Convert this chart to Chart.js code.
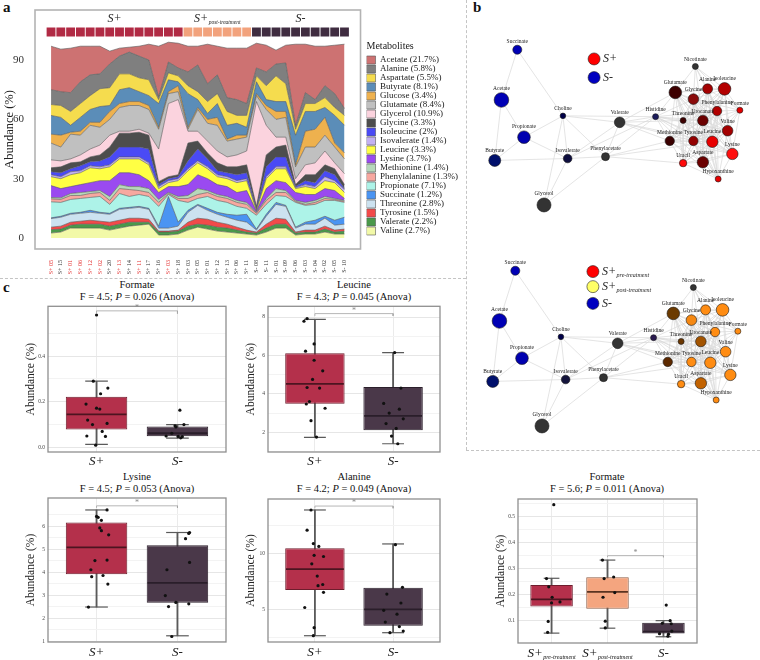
<!DOCTYPE html>
<html><head><meta charset="utf-8">
<script src="https://cdn.jsdelivr.net/npm/chart.js@4.4.1/dist/chart.umd.min.js"></script>
<style>
body{margin:0;background:#fff;width:760px;height:660px;position:relative;overflow:hidden;font-family:'Liberation Serif','Times New Roman',serif;color:#111;}
canvas{position:absolute;}
.lbl{position:absolute;font-weight:bold;font-size:15px;}
.ttl{position:absolute;text-align:center;font-size:10.5px;line-height:12px;width:200px;}
.dash{position:absolute;border:0 dashed #c4c4c4;}
</style></head><body>
<div class="dash" style="left:0;top:278px;width:466px;border-top-width:1px"></div>
<div class="dash" style="left:466px;top:0;height:450px;border-left-width:1px"></div>
<div class="dash" style="left:466px;top:450px;width:294px;border-top-width:1px"></div>
<div class="lbl" style="left:3px;top:-1px">a</div>
<div class="lbl" style="left:473px;top:-1px">b</div>
<div class="lbl" style="left:3px;top:279px">c</div>
<div class="ttl" style="left:37px;top:279px">Formate<br>F = 4.5; <i>P</i> = 0.026 (Anova)</div>
<div class="ttl" style="left:254px;top:279px">Leucine<br>F = 4.3; <i>P</i> = 0.045 (Anova)</div>
<div class="ttl" style="left:37px;top:471px">Lysine<br>F = 4.5; <i>P</i> = 0.053 (Anova)</div>
<div class="ttl" style="left:254px;top:471px">Alanine<br>F = 4.2; <i>P</i> = 0.049 (Anova)</div>
<div class="ttl" style="left:507px;top:471px">Formate<br>F = 5.6; <i>P</i> = 0.011 (Anova)</div>
<canvas id="cA" width="468" height="280" style="left:0;top:0"></canvas>
<canvas id="nTop" width="294" height="225" style="left:466px;top:0"></canvas>
<canvas id="nBot" width="294" height="225" style="left:464px;top:221px"></canvas>
<canvas id="c1" width="214" height="176" style="left:18px;top:300px"></canvas>
<canvas id="c2" width="210" height="176" style="left:238px;top:300px"></canvas>
<canvas id="c3" width="214" height="170" style="left:18px;top:490px"></canvas>
<canvas id="c4" width="210" height="170" style="left:238px;top:490px"></canvas>
<canvas id="c5" width="218" height="170" style="left:488px;top:490px"></canvas>
<script>
// ================= DATA : panel a =================
const sampleLabels = ['S+ 05','S+ 15','S+ 01','S+ 06','S+ 12','S+ 02','S+ 20','S+ 13','S+ 14','S+ 11','S+ 17','S+ 16','S+ 03','S+ 18',
  'S+ 03','S+ 05','S+ 01','S+ 12','S+ 13','S+ 06','S+ 11',
  'S- 08','S- 11','S- 01','S- 09','S- 06','S- 03','S- 04','S- 02','S- 05','S- 10'];
const sampleGroup = [0,0,0,0,0,0,0,0,0,0,0,0,0,0, 1,1,1,1,1,1,1, 2,2,2,2,2,2,2,2,2,2];
const preTreatPaired = [0,2,3,4,5,7,9,12];
const yTicksA = [0,30,60,90];

const valine        = [2.5,3,5,5,5,5,4,5,6,6.5,7,1.5,1.5,2,4,5.5,4.5,3.5,3,2.5,2,1.5,3,5,5,1.5,2,2,3,2,2];
const valerate      = [1.7,1.5,1.5,2,2,2,2,2,2,1.5,1,1.5,1.5,1.5,2,1.5,2,2,2,1.5,1,1,2,2,2,1,1,1,1.5,1,1.5];
const tyrosine      = [1.3,1.5,1.5,1.5,2,1.5,2,2,2,2,1.5,0.5,0.5,0.5,2,3,3,2.5,2,1.5,1,0.5,2,3,2.5,0.5,1,1,1.5,1,1];
const threonine     = [4.3,4.5,4,4,4,4,4,5.5,5,5.5,5,1.5,1.5,2,5,6.5,4.5,4,3.5,3.5,4,1,4,7,6.5,2,3,3,4,2.5,2.5];
const succinate     = [0.4,0.5,0.5,0.5,1,0.5,0.5,0.5,0.5,0.5,0.5,1,16,2,1,0.5,1,1,1.5,2.5,4,0.5,1,1,0.5,0.5,1,2,1,2.5,3.5];
const propionate    = [8.1,7,7,7,6.5,8,4.5,7.5,5.5,6,6,10,1,11,4,3,6,6,6,4.5,3,7,5,3.5,4.5,12.5,8.5,8,8,10,7.5];
const phenylalanine = [1.5,1.5,2,1.5,2,2,2,2.5,3.5,2,2,2,0.5,1,2,2,2,2,2,2,2,1,2,1.5,2,0.5,0.5,1,1,0.5,0.5];
const methionine    = [0.7,0.8,1,1.5,1,1,2,2,1.5,2,2,1.5,0.5,1,1.5,3,1,1,1,1,1,0.5,1,2,1,0.5,1,1,1,0.5,0.5];
const lysine        = [6,4.7,3.5,4,4.5,5,8,6,7,6,4,3.5,3,5,5.5,7,6,5,5,4,6,0.5,5,4,4,4,4,3,4,4,1];
const leucine       = [4.5,5,6,6,7.5,6,7,7,7,8,8,2,2,3,7,6,5,4,4,5,5,0.5,5,6,7,2,4,3,4,4,3];
const isovalerate   = [1,1,1.5,1,1,1,1,1,1,1,1,1,1,1,1,1,1,1,1,1,1,0.5,1,1,1,0.5,1,1,2,1,1.5];
const isoleucine    = [1.5,2,1.5,2.5,2,3,4,5,5,5,7,1,1,1,4,6,4,2,2,3,3,0.5,5,5,5,0.5,2,2,3,3,0.5];
const glycine       = [2,3,3,2,2.5,3,5,7,7,7.5,7,1.5,1,1,9,4,3,4,3,4,4,1,6,5,6,1,3,4,3,3,2];
const glycerol      = [4,3,2,3.5,4,5,6,1,1,1.5,1,16.5,37,38,6,5,6,6,5,6,7,53,15,5,4,3,5,6,7,3,5.5];
const glutamate     = [8.5,7,12.5,10,12,9,8,12,13,12,12,10,5,4,1,11,9,13,8,8,7,3,8,9,10,6,9,8,8,8,7.5];
const glucose       = [4.5,6,1,2,1.5,2.5,4,2,2,2,2,1,1,3,1,1,2,4,1,2,1,1,2,4,3,1,8,9,9,2,3];
const butyrate      = [9.5,9,3.5,7,6.5,8,3,7,7,5,5,12,6,2,17,4,3,7,7,6,4,6,3,5,5,15,10,9,5,14,14];
const aspartate     = [5.5,6,7,7,7,9,9,8,7,7,8,2,3.5,3,4,4,6,5,7,4,6,3,7,13,9,3,4,4,5,4,5];
const alanine       = [7.5,7,9.5,11,10.5,7.5,12,9,11,11,10,1.5,5.5,4,7,13.5,9,9.5,7,8,6,4,7,6,10.5,2,5.5,2,6,7,3.5];
const acetate       = [22,21.5,22.5,18,14.5,14,6.5,4,2.5,5,8,25.5,10,12.5,13,9.5,20,14.5,25,26,28,12.5,13.5,7,9,41,24.5,27,20,24.5,32.5];

const metabolites = ['Valine','Valerate','Tyrosine','Threonine','Succinate','Propionate','Phenylalanine','Methionine','Lysine','Leucine','Isovalerate','Isoleucine','Glycine','Glycerol','Glutamate','Glucose','Butyrate','Aspartate','Alanine','Acetate'];
const metaboliteSeries = [valine,valerate,tyrosine,threonine,succinate,propionate,phenylalanine,methionine,lysine,leucine,isovalerate,isoleucine,glycine,glycerol,glutamate,glucose,butyrate,aspartate,alanine,acetate];
const metaboliteMeanPct = ['2.7','2.2','1.5','2.8','1.2','7.1','1.3','1.4','3.7','3.3','1.4','2','3.3','10.9','8.4','3.4','8.1','5.5','5.8','21.7'];

// ================= DATA : panel b =================
const nodeNames = ['Succinate','Acetate','Propionate','Butyrate','Choline','Isovalerate','Glycerol','Valerate','Phenylacetate','Histidine','Nicotinate','Glutamate','Alanine','Isoleucine','Glycine','Phenylalanine','Formate','Threonine','Urocanate','Valine','Methionine','Tyrosine','Leucine','Lysine','Uracil','Aspartate','Hypoxanthine'];
const nodeX = [15.6,9.9,18.0,7.5,32.0,33.7,25.2,52.4,47.3,65.3,79.6,72.4,84.0,90.1,78.9,87.4,95.6,75.2,82.3,91.2,70.4,78.9,85.7,92.9,75.2,82.3,87.8];
const nodeY = [20,44,61.8,72.9,51.6,72,94.2,54.7,71.1,52,28,40.4,38.7,38.7,43.6,49.3,48.9,53.8,53.8,58.7,63.6,63.6,64,69.8,74.2,73.8,81.8];
const nodeWeight = [4.5,7.3,6.3,6,2.8,4.3,7,5.3,4,3,3,6.3,5,6.3,5.3,4.7,3,3,5.3,5.3,4.7,4.7,5.7,5.7,3.7,5.7,3];
const edgeList = {
  Succinate:'Acetate,Choline',
  Acetate:'Propionate,Butyrate',
  Propionate:'Butyrate,Choline,Isovalerate',
  Butyrate:'Isovalerate',
  Choline:'Isovalerate,Glycerol,Valerate,Histidine,Phenylacetate',
  Isovalerate:'Glycerol,Valerate,Phenylacetate,Histidine',
  Glycerol:'Phenylacetate',
  Valerate:'Phenylacetate,Histidine,Glutamate,Methionine,Tyrosine,Leucine,Threonine',
  Phenylacetate:'Histidine,Methionine,Uracil,Leucine',
  Histidine:'Glutamate,Threonine,Methionine,Urocanate,Tyrosine,Glycine,Valine,Leucine,Aspartate,Phenylalanine,Lysine',
  Nicotinate:'Glutamate,Alanine,Isoleucine,Glycine,Phenylalanine,Urocanate,Formate',
  Glutamate:'Alanine,Isoleucine,Glycine,Phenylalanine,Threonine,Urocanate,Valine,Methionine,Tyrosine,Leucine,Lysine,Uracil,Aspartate,Hypoxanthine',
  Alanine:'Isoleucine,Glycine,Phenylalanine,Formate,Threonine,Urocanate,Valine,Methionine,Tyrosine,Leucine,Lysine,Aspartate,Hypoxanthine',
  Isoleucine:'Glycine,Phenylalanine,Formate,Urocanate,Valine,Tyrosine,Leucine,Lysine,Aspartate,Threonine,Methionine',
  Glycine:'Phenylalanine,Threonine,Urocanate,Valine,Methionine,Tyrosine,Leucine,Lysine,Uracil,Aspartate,Hypoxanthine,Formate',
  Phenylalanine:'Formate,Threonine,Urocanate,Valine,Methionine,Tyrosine,Leucine,Lysine,Uracil,Aspartate,Hypoxanthine',
  Formate:'Urocanate,Valine,Leucine,Lysine,Tyrosine',
  Threonine:'Urocanate,Valine,Methionine,Tyrosine,Leucine,Lysine,Uracil,Aspartate,Hypoxanthine',
  Urocanate:'Valine,Methionine,Tyrosine,Leucine,Lysine,Uracil,Aspartate,Hypoxanthine',
  Valine:'Methionine,Tyrosine,Leucine,Lysine,Uracil,Aspartate,Hypoxanthine',
  Methionine:'Tyrosine,Leucine,Lysine,Uracil,Aspartate,Hypoxanthine',
  Tyrosine:'Leucine,Lysine,Uracil,Aspartate,Hypoxanthine',
  Leucine:'Lysine,Uracil,Aspartate,Hypoxanthine',
  Lysine:'Uracil,Aspartate,Hypoxanthine',
  Uracil:'Aspartate,Hypoxanthine',
  Aspartate:'Hypoxanthine'
};

// ================= DATA : panel c =================
const formate2Q1 = [0.078,0.049], formate2Median = [0.145,0.062], formate2Q3 = [0.222,0.092], formate2Low = [0.013,0.041], formate2High = [0.29,0.10];
const formate2SPlus = [0.58,0.29,0.26,0.235,0.19,0.172,0.168,0.12,0.105,0.10,0.07,0.05,0.048,0.01];
const formate2SPlusJit = [0,-0.04,0.14,0.05,-0.13,0,0.04,-0.11,0.13,-0.05,0.07,-0.12,0.11,-0.01];
const formate2SMinus = [0.163,0.10,0.095,0.09,0.062,0.05,0.048,0.047,0.042];
const formate2SMinusJit = [0.03,0.08,-0.03,-0.02,-0.07,-0.14,0.01,0.06,0.04];

const leucineQ1 = [3.48,2.1], leucineMedian = [4.52,2.85], leucineQ3 = [6.12,4.35], leucineLow = [1.73,1.4], leucineHigh = [7.88,6.15];
const leucineSPlus = [7.92,7.78,6.6,6.22,5.75,5.2,4.75,4.33,4.3,3.6,3.47,3.25,2.6,1.75];
const leucineSPlusJit = [-0.1,-0.14,-0.01,-0.12,-0.01,0.1,-0.03,-0.1,0.06,-0.07,-0.11,0.13,-0.05,0.02];
const leucineSMinus = [6.15,4.3,3.5,3.2,3.0,2.7,2.45,2.2,1.8,1.4];
const leucineSMinusJit = [0.02,0.1,-0.12,0.08,-0.05,0.13,-0.09,0.04,-0.02,0.06];

const lysineQ1 = [3.9,2.67], lysineMedian = [5.07,3.53], lysineQ3 = [6.16,5.17], lysineLow = [2.48,1.23], lysineHigh = [6.7,5.72];
const lysineSPlus = [6.7,6.42,6.38,6.25,5.92,5.8,5.62,4.52,4.5,4.1,3.85,3.8,3.48,2.48];
const lysineSPlusJit = [0.13,0,0.02,0.06,0.04,0.06,0.15,0.13,-0.02,-0.07,0.08,-0.06,0.14,-0.1];
const lysineSMinus = [5.72,5.68,5.45,4.42,4.1,2.98,2.68,2.62,2.5,1.2];
const lysineSMinusJit = [0.15,0.14,0.1,0.15,-0.13,-0.15,-0.02,0.14,-0.11,-0.07];

const alanineQ1 = [6.76,3.57], alanineMedian = [8.63,5.04], alanineQ3 = [10.48,6.96], alanineLow = [2.68,2.95], alanineHigh = [13.9,10.87];
const alanineSPlus = [13.9,12.1,10.9,10.65,9.85,9.75,9.1,8.0,7.25,7.15,6.55,5.2,3.4,2.68];
const alanineSPlusJit = [-0.05,-0.1,-0.02,0.05,-0.01,0.11,-0.04,0.03,0.1,0.04,0.11,-0.13,-0.01,-0.02];
const alanineSMinus = [10.8,7.0,6.4,5.6,4.95,4.6,3.9,3.5,3.1,2.95];
const alanineSMinusJit = [0.03,0.12,-0.08,0.1,-0.12,0.05,-0.1,0.08,0.13,-0.04];

const formate3Q1 = [0.154,0.146,0.051], formate3Median = [0.182,0.211,0.058], formate3Q3 = [0.237,0.267,0.092], formate3Low = [0.052,0.071,0.038], formate3High = [0.263,0.333,0.1];
const formatePre = [0.546,0.262,0.23,0.19,0.172,0.168,0.097,0.055];
const formatePreJit = [0.04,-0.09,-0.05,0.01,0.15,0,-0.06,-0.07];
const formatePost = [0.333,0.262,0.268,0.208,0.19,0.098,0.072];
const formatePostJit = [-0.09,-0.06,0.11,0.13,-0.08,-0.04,-0.04];
const formateNeg = [0.16,0.1,0.09,0.088,0.06,0.05,0.048,0.04];
const formateNegJit = [0.05,0.12,-0.02,0.14,0.15,-0.07,0.09,0.08];

// ================= STYLES =================
const FONT = "'Liberation Serif','Times New Roman',serif";
Chart.defaults.font.family = FONT;
Chart.defaults.color = '#222';
Chart.defaults.animation = false;
Chart.defaults.plugins.legend.display = false;
Chart.defaults.plugins.tooltip.enabled = false;

const metaboliteColors = ['#f2f9a8','#4a994a','#f24a4a','#cce2f0','#4a94f2','#adf3e8','#f7a8a0','#b6d8bb','#9a4af0','#ffff44','#c3b1f2','#4a4af5','#4d4d4d','#fbd3de','#c0c0c0','#eeb14e','#5b8db8','#f5dc4e','#7f7f7f','#cd7272'];
const groupStripColors = ['#b12a44','#f2a27c','#3f2c40'];
const groupHeads = [{main:'S+',sub:''},{main:'S+',sub:'post-treatment'},{main:'S-',sub:''}];
const colorsTop = ['#0000b5','#0000b5','#0000b0','#00106c','#000048','#0e0e3e','#333333','#333333','#333333','#1c1c5c','#333333','#3d0000','#a30000','#b30000','#8a0b0b','#b00000','#e30000','#3d0000','#6b0000','#a30000','#3a0000','#930000','#e80000','#ff1010','#ff0a0a','#6b0000','#e60000'];
const colorsBottom = ['#0000b5','#0000b5','#0000b0','#00106c','#000048','#14143c','#333333','#333333','#333333','#2a1a50','#333333','#6b3a00','#ff8c12','#ff8c12','#f58812','#ff8c12','#ff8c12','#6b3600','#a35400','#ff8c12','#5c2900','#ff8c12','#ff8c12','#ff8c12','#ff8c12','#c26200','#ff8c12'];
const netLegendTop = [{x:43.2,y:24.4,color:'#ff0000',main:'S+',sub:''},{x:43.2,y:33.3,color:'#0000c0',main:'S-',sub:''}];
const netLegendBottom = [{x:43.5,y:20.4,color:'#ff0000',main:'S+',sub:'pre-treatment'},{x:43.5,y:27.6,color:'#ffff66',main:'S+',sub:'post-treatment'},{x:43.5,y:35.6,color:'#0000c0',main:'S-',sub:''}];
const boxFill = {pos:'#b4304b', post:'#f4a57f', neg:'#4a3849'};
const boxEdge = {pos:'#6e1d2d', post:'#8d5c44', neg:'#2b1f2b'};
const boxMed  = {pos:'#4d1420', post:'#5a3320', neg:'#2a1e2a'};

function drawSub(ctx, main, sub, x, y, fs, ss, align, color){
  ctx.save();
  ctx.fillStyle = color || '#222';
  ctx.textBaseline = 'middle';
  ctx.font = `italic ${fs}px ${FONT}`;
  const w1 = ctx.measureText(main).width;
  ctx.font = `italic ${ss}px ${FONT}`;
  const w2 = sub ? ctx.measureText(sub).width + 0.5 : 0;
  const x0 = align === 'left' ? x : x - (w1 + w2) / 2;
  ctx.textAlign = 'left';
  ctx.font = `italic ${fs}px ${FONT}`;
  ctx.fillText(main, x0, y);
  if (sub) { ctx.font = `italic ${ss}px ${FONT}`; ctx.fillText(sub, x0 + w1 + 0.5, y + fs * 0.3); }
  ctx.restore();
}

// ================= PANEL A =================
const areaDatasets = metabolites.map((name, k) => ({
  type:'line', label:`${name} (${metaboliteMeanPct[k]}%)`,
  data: metaboliteSeries[k].map((v, i) => ({x:i, y:v})),
  backgroundColor: metaboliteColors[k], borderColor:'#555', borderWidth:0.6,
  pointRadius:0, fill: k === 0 ? 'origin' : '-1', tension:0, yAxisID:'y'
}));
const stripDataset = {
  type:'bar', label:'group', yAxisID:'yStrip',
  data: sampleGroup.map((g, i) => ({x:i, y:[101.6,106.7]})),
  backgroundColor: sampleGroup.map(g => groupStripColors[g]),
  borderColor:'rgba(255,255,255,0.45)', borderWidth:0.8, borderSkipped:false,
  barPercentage:1, categoryPercentage:1
};
const frameA = {id:'frameA', afterDraw(chart){
  const {ctx, chartArea:a, scales:{x}} = chart;
  ctx.save(); ctx.strokeStyle = '#b3b3b3'; ctx.lineWidth = 1.6;
  ctx.strokeRect(a.left, a.top, a.right - a.left, a.bottom - a.top); ctx.restore();
  groupHeads.forEach((g, k) => {
    const idx = sampleGroup.map((v, i) => v === k ? i : -1).filter(i => i >= 0);
    const cx = x.getPixelForValue((idx[0] + idx[idx.length - 1]) / 2);
    drawSub(ctx, g.main, g.sub, cx, a.top + 8.5, 12, 5.5, 'center', '#222');
  });
}};
new Chart(document.getElementById('cA'), {
  type:'line',
  data:{datasets:[...areaDatasets, stripDataset]},
  options:{
    responsive:false, events:[],
    layout:{padding:{top:10, right:0, left:0, bottom:0}},
    scales:{
      x:{type:'linear', min:-1.64, max:31.64, offset:false, grid:{display:false, offset:false}, border:{display:false},
        afterBuildTicks:a => { a.ticks = sampleLabels.map((_, i) => ({value:i})); },
        ticks:{autoSkip:false, maxRotation:90, minRotation:90, padding:3, font:{size:6},
          color:c => preTreatPaired.includes(c.index) ? '#e32b2b' : '#333',
          callback:(v, i) => sampleLabels[i]},
        afterFit:s => { s.height = 31; }},
      y:{type:'linear', stacked:true, min:-5.56, max:115.3, grid:{display:false}, border:{display:false},
        afterBuildTicks:a => { a.ticks = yTicksA.map(v => ({value:v})); },
        ticks:{font:{size:11}, color:'#333', padding:3, callback:v => String(v)},
        title:{display:true, text:'Abundance (%)', font:{size:12.5}, color:'#222', padding:{top:2, bottom:0}},
        afterFit:s => { s.width = 35; }},
      yStrip:{type:'linear', display:false, min:-5.56, max:115.3},
      yGap:{type:'linear', position:'right', grid:{display:false}, border:{display:false}, ticks:{display:false}, afterFit:s => { s.width = 6; }}
    },
    plugins:{
      legend:{display:true, position:'right', align:'start', fullSize:false, reverse:true, maxWidth:140,
        labels:{filter:it => it.datasetIndex < 20, boxWidth:9, boxHeight:8, padding:0, font:{size:9}, color:'#1a1a1a'},
        title:{display:true, text:'Metabolites', font:{size:10}, color:'#1a1a1a', padding:{top:31.7, bottom:1.8}, position:'start'}}
    }
  },
  plugins:[frameA]
});

// ================= PANEL B =================
function makeNet(id, colors, legendItems){
  const idx = {}; nodeNames.forEach((n, i) => idx[n] = i);
  const edgePts = [];
  Object.keys(edgeList).forEach(a => edgeList[a].split(',').forEach(b => {
    const i = idx[a], j = idx[b.trim()];
    edgePts.push({x:nodeX[i], y:nodeY[i]}, {x:nodeX[j], y:nodeY[j]}, {x:null, y:null});
  }));
  const labelsPlugin = {id:'netLabels', afterDatasetsDraw(chart){
    const {ctx, scales:{x, y}} = chart;
    ctx.save();
    ctx.font = `5.5px ${FONT}`; ctx.fillStyle = '#222'; ctx.textAlign = 'center'; ctx.textBaseline = 'bottom';
    nodeNames.forEach((n, i) => ctx.fillText(n, x.getPixelForValue(nodeX[i]), y.getPixelForValue(nodeY[i]) - nodeWeight[i] - 1.3));
    legendItems.forEach(it => {
      const px = x.getPixelForValue(it.x), py = y.getPixelForValue(it.y);
      ctx.beginPath(); ctx.arc(px, py, 6, 0, Math.PI * 2);
      ctx.fillStyle = it.color; ctx.fill(); ctx.lineWidth = 0.6; ctx.strokeStyle = '#222'; ctx.stroke();
      drawSub(ctx, it.main, it.sub, px + 9, py, 12, 6, 'left', '#222');
    });
    ctx.restore();
  }};
  new Chart(document.getElementById(id), {
    type:'scatter',
    data:{datasets:[
      {type:'line', data:edgePts, borderColor:'#d8d8d8', borderWidth:0.7, pointRadius:0, spanGaps:false, order:2, clip:false},
      {type:'scatter', data:nodeNames.map((n, i) => ({x:nodeX[i], y:nodeY[i]})), pointRadius:nodeWeight,
       pointBackgroundColor:colors, pointBorderColor:'#1a1a1a', pointBorderWidth:0.6, order:1, clip:false}
    ]},
    options:{responsive:false, events:[], layout:{padding:0},
      scales:{x:{type:'linear', min:0, max:100, display:false}, y:{type:'linear', min:0, max:100, reverse:true, display:false}}},
    plugins:[labelsPlugin]
  });
}
makeNet('nTop', colorsTop, netLegendTop);
makeNet('nBot', colorsBottom, netLegendBottom);

// ================= PANEL C =================
const boxCharts = [
  {id:'c1', cats:[['S+',''],['S-','']], groups:['pos','neg'], q1:formate2Q1, med:formate2Median, q3:formate2Q3, lo:formate2Low, hi:formate2High,
   pts:[formate2SPlus, formate2SMinus], jit:[formate2SPlusJit, formate2SMinusJit], yMin:-0.02, yMax:0.618, major:[0,0.2,0.4], minor:[0.1,0.3,0.5], dec:1,
   bracket:[0,1,0.598,0.012], padTop:2, padRight:6, xh:24, lblOff:10},
  {id:'c2', cats:[['S+',''],['S-','']], groups:['pos','neg'], q1:leucineQ1, med:leucineMedian, q3:leucineQ3, lo:leucineLow, hi:leucineHigh,
   pts:[leucineSPlus, leucineSMinus], jit:[leucineSPlusJit, leucineSMinusJit], yMin:0.97, yMax:8.56, major:[2,4,6,8], minor:[1,3,5,7], dec:0,
   bracket:[0,1,8.18,0.12], padTop:6, padRight:8, xh:24, lblOff:10},
  {id:'c3', cats:[['S+',''],['S-','']], groups:['pos','neg'], q1:lysineQ1, med:lysineMedian, q3:lysineQ3, lo:lysineLow, hi:lysineHigh,
   pts:[lysineSPlus, lysineSMinus], jit:[lysineSPlusJit, lysineSMinusJit], yMin:0.96, yMax:7.22, major:[1,2,3,4,5,6], minor:[1.5,2.5,3.5,4.5,5.5,6.5], dec:0,
   bracket:[0,1,6.88,0.09], padTop:8, padRight:6, xh:18, lblOff:11},
  {id:'c4', cats:[['S+',''],['S-','']], groups:['pos','neg'], q1:alanineQ1, med:alanineMedian, q3:alanineQ3, lo:alanineLow, hi:alanineHigh,
   pts:[alanineSPlus, alanineSMinus], jit:[alanineSPlusJit, alanineSMinusJit], yMin:2.12, yMax:14.88, major:[5,10], minor:[2.5,7.5,12.5], dec:0,
   bracket:[0,1,14.25,0.2], padTop:9, padRight:8, xh:18, lblOff:11},
  {id:'c5', cats:[['S+','pre-treatment'],['S+','post-treatment'],['S-','']], groups:['pos','post','neg'], q1:formate3Q1, med:formate3Median, q3:formate3Q3, lo:formate3Low, hi:formate3High,
   pts:[formatePre, formatePost, formateNeg], jit:[formatePreJit, formatePostJit, formateNegJit], yMin:0.014, yMax:0.568, major:[0.1,0.2,0.3,0.4,0.5], minor:[0.15,0.25,0.35,0.45,0.55], dec:1,
   bracket:[1,2,0.35,0.006], padTop:9, padRight:9, xh:17, lblOff:11}
];

function makeBox(c){
  const n = c.cats.length;
  const sp = ctx => { const s = ctx.chart.scales.x; return Math.abs(s.getPixelForValue(1) - s.getPixelForValue(0)); };
  const ds = [];
  ds.push({type:'bar', data:c.lo.map((v, i) => ({x:i, y:[v, c.hi[i]]})), backgroundColor:'#5a5a5a', barThickness:1.2, grouped:false, order:5});
  ds.push({type:'bar', data:c.q1.map((v, i) => ({x:i, y:[v, c.q3[i]]})), backgroundColor:c.groups.map(g => boxFill[g]),
    borderColor:c.groups.map(g => boxEdge[g]), borderWidth:1, borderSkipped:false, grouped:false, barPercentage:0.95, categoryPercentage:0.8, order:4});
  ds.push({type:'scatter', data:[...c.lo.map((v, i) => ({x:i, y:v})), ...c.hi.map((v, i) => ({x:i, y:v}))], pointStyle:'line',
    pointRadius:ctx => sp(ctx) * 0.14, pointBorderColor:'#5a5a5a', pointBorderWidth:1.2, order:3});
  ds.push({type:'scatter', data:c.med.map((v, i) => ({x:i, y:v})), pointStyle:'line',
    pointRadius:ctx => sp(ctx) * 0.38 - 0.8, pointBorderColor:c.groups.map(g => boxMed[g]), pointBorderWidth:1.8, order:2});
  c.pts.forEach((arr, g) => ds.push({type:'scatter', data:arr.map((v, k) => ({x:g + c.jit[g][k], y:v})),
    pointRadius:1.6, pointBackgroundColor:'#111', pointBorderWidth:0, order:1}));
  const [a, b, yb, d] = c.bracket;
  ds.push({type:'line', data:[{x:a, y:yb - d}, {x:a, y:yb}, {x:b, y:yb}, {x:b, y:yb - d}], borderColor:'#a3a3a3', borderWidth:0.8, pointRadius:0, order:0});
  const deco = {id:'boxDeco', afterDraw(chart){
    const {ctx, chartArea:ar, scales:{x, y}} = chart;
    ctx.save(); ctx.strokeStyle = '#8f8f8f'; ctx.lineWidth = 1.3;
    ctx.strokeRect(ar.left, ar.top, ar.right - ar.left, ar.bottom - ar.top);
    ctx.fillStyle = '#888'; ctx.font = `8px ${FONT}`; ctx.textAlign = 'center'; ctx.textBaseline = 'bottom';
    ctx.fillText('*', x.getPixelForValue((a + b) / 2), y.getPixelForValue(yb) + 1);
    ctx.restore();
    c.cats.forEach((cat, i) => drawSub(ctx, cat[0], cat[1], x.getPixelForValue(i), ar.bottom + c.lblOff, 13, 6, 'center', '#111'));
  }};
  const allTicks = [...c.major, ...c.minor].sort((p, q) => p - q);
  new Chart(document.getElementById(c.id), {
    type:'scatter',
    data:{datasets:ds},
    options:{responsive:false, events:[],
      layout:{padding:{top:c.padTop, right:c.padRight, left:0, bottom:0}},
      scales:{
        x:{type:'linear', min:-0.6, max:n - 0.4, offset:false,
          afterBuildTicks:s => { s.ticks = c.cats.map((_, i) => ({value:i})); },
          ticks:{display:false}, grid:{color:'#ebebeb', drawTicks:false, offset:false}, border:{display:false},
          afterFit:s => { s.height = c.xh; }},
        y:{type:'linear', min:c.yMin, max:c.yMax, beginAtZero:false,
          afterBuildTicks:s => { s.ticks = allTicks.map(v => ({value:v})); },
          ticks:{font:{size:5.5}, color:'#444', padding:3, autoSkip:false,
            callback:v => c.major.includes(v) ? v.toFixed(c.dec) : ''},
          grid:{drawTicks:false, color:ctx => (ctx.tick && c.major.includes(ctx.tick.value)) ? '#e6e6e6' : '#f3f3f3'},
          border:{display:false},
          title:{display:true, text:'Abundance (%)', font:{size:11.5}, color:'#222', padding:{top:6.5, bottom:0}},
          afterFit:s => { s.width = 30; }}
      }},
    plugins:[deco]
  });
}
boxCharts.forEach(makeBox);
</script>
</body></html>
